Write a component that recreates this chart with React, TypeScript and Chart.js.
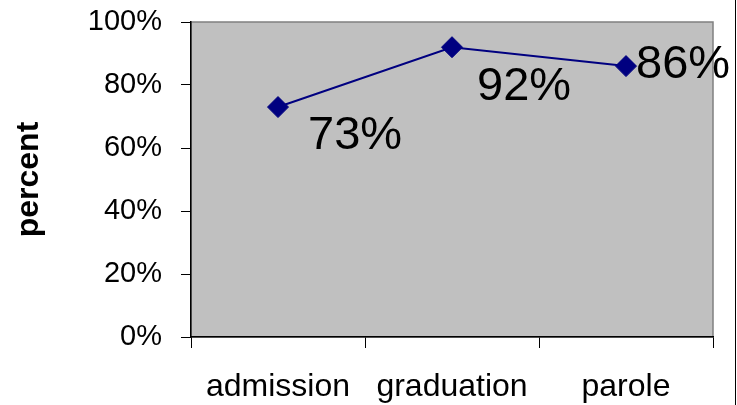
import React, { useEffect, useRef } from "react";
import { Chart, registerables } from "chart.js";

Chart.register(...registerables);

const categories = ["admission", "graduation", "parole"];
const percentValues = [73, 92, 86];
const yTickValues = [0, 20, 40, 60, 80, 100];
const yAxisTitle = "percent";

const FONT = "'Liberation Sans', Arial, Helvetica, sans-serif";
const labelOffsets = [
  [30, 29],
  [25, 40],
  [10, -1],
];

const plotBgPlugin = {
  id: "plotBg",
  beforeDraw(chart: any) {
    const { ctx, chartArea } = chart;
    ctx.save();
    ctx.fillStyle = "#C0C0C0";
    ctx.fillRect(chartArea.left, chartArea.top, chartArea.right - chartArea.left, chartArea.bottom - chartArea.top);
    ctx.strokeStyle = "#808080";
    ctx.lineWidth = 1.5;
    ctx.strokeRect(chartArea.left, chartArea.top, chartArea.right - chartArea.left, chartArea.bottom - chartArea.top);
    ctx.restore();
  },
  afterDraw(chart: any) {
    const { ctx, height } = chart;
    ctx.save();
    ctx.strokeStyle = "#000000";
    ctx.lineWidth = 1;
    ctx.beginPath();
    ctx.moveTo(735.5, 0);
    ctx.lineTo(735.5, height);
    ctx.stroke();
    ctx.restore();
  },
};

const dataLabelPlugin = {
  id: "dataLabels",
  afterDatasetsDraw(chart: any) {
    const { ctx } = chart;
    const meta = chart.getDatasetMeta(0);
    const values = chart.data.datasets[0].data as number[];
    ctx.save();
    ctx.font = `47px ${FONT}`;
    ctx.fillStyle = "#000000";
    ctx.textAlign = "left";
    ctx.textBaseline = "middle";
    meta.data.forEach((pt: any, i: number) => {
      const [dx, dy] = labelOffsets[i] || [10, 0];
      ctx.fillText(`${values[i]}%`, pt.x + dx, pt.y + dy);
    });
    ctx.restore();
  },
};

export default function App() {
  const canvasRef = useRef<HTMLCanvasElement | null>(null);

  useEffect(() => {
    if (!canvasRef.current) return;
    const chart = new Chart(canvasRef.current, {
      type: "line",
      data: {
        labels: categories,
        datasets: [
          {
            data: percentValues,
            borderColor: "#000080",
            backgroundColor: "#000080",
            borderWidth: 2,
            pointStyle: "rectRot",
            pointRadius: 10.5,
            pointHoverRadius: 10.5,
            pointBorderWidth: 1,
            pointBackgroundColor: "#000080",
            pointBorderColor: "#000080",
            tension: 0,
          },
        ],
      },
      options: {
        animation: false,
        responsive: false,
        maintainAspectRatio: false,
        events: [],
        layout: { padding: { left: 0, top: 22, right: 24, bottom: 0 } },
        plugins: {
          legend: { display: false },
          tooltip: { enabled: false },
        },
        scales: {
          x: {
            offset: true,
            grid: {
              offset: true,
              drawOnChartArea: false,
              drawTicks: true,
              tickLength: 11,
              color: "#000000",
              lineWidth: 1,
            },
            border: { display: true, color: "#000000", width: 1.5 },
            ticks: {
              color: "#000000",
              font: { family: FONT, size: 32 },
              padding: 20,
              maxRotation: 0,
              autoSkip: false,
            },
            afterFit(scale: any) {
              scale.height = 68;
              scale.paddingLeft = 0;
              scale.paddingRight = 0;
            },
          },
          y: {
            min: 0,
            max: 100,
            afterBuildTicks(scale: any) {
              scale.ticks = yTickValues.map((v) => ({ value: v }));
            },
            grid: {
              drawOnChartArea: false,
              drawTicks: true,
              tickLength: 10,
              color: "#000000",
              lineWidth: 1,
            },
            border: { display: true, color: "#000000", width: 1.5 },
            ticks: {
              color: "#000000",
              font: { family: FONT, size: 29 },
              padding: 19,
              callback: (v: any) => `${v}%`,
            },
            title: {
              display: true,
              text: yAxisTitle,
              color: "#000000",
              font: { family: FONT, size: 32, weight: "bold" },
              padding: { top: 10, bottom: 0 },
            },
            afterFit(scale: any) {
              scale.width = 191;
              scale.paddingTop = 0;
              scale.paddingBottom = 0;
            },
          },
        },
      },
      plugins: [plotBgPlugin, dataLabelPlugin],
    });
    return () => chart.destroy();
  }, []);

  return (
    <div style={{ position: "fixed", left: 0, top: 0, width: 737, height: 405, background: "#ffffff" }}>
      <canvas ref={canvasRef} width={737} height={405} style={{ display: "block", width: 737, height: 405 }} />
    </div>
  );
}
